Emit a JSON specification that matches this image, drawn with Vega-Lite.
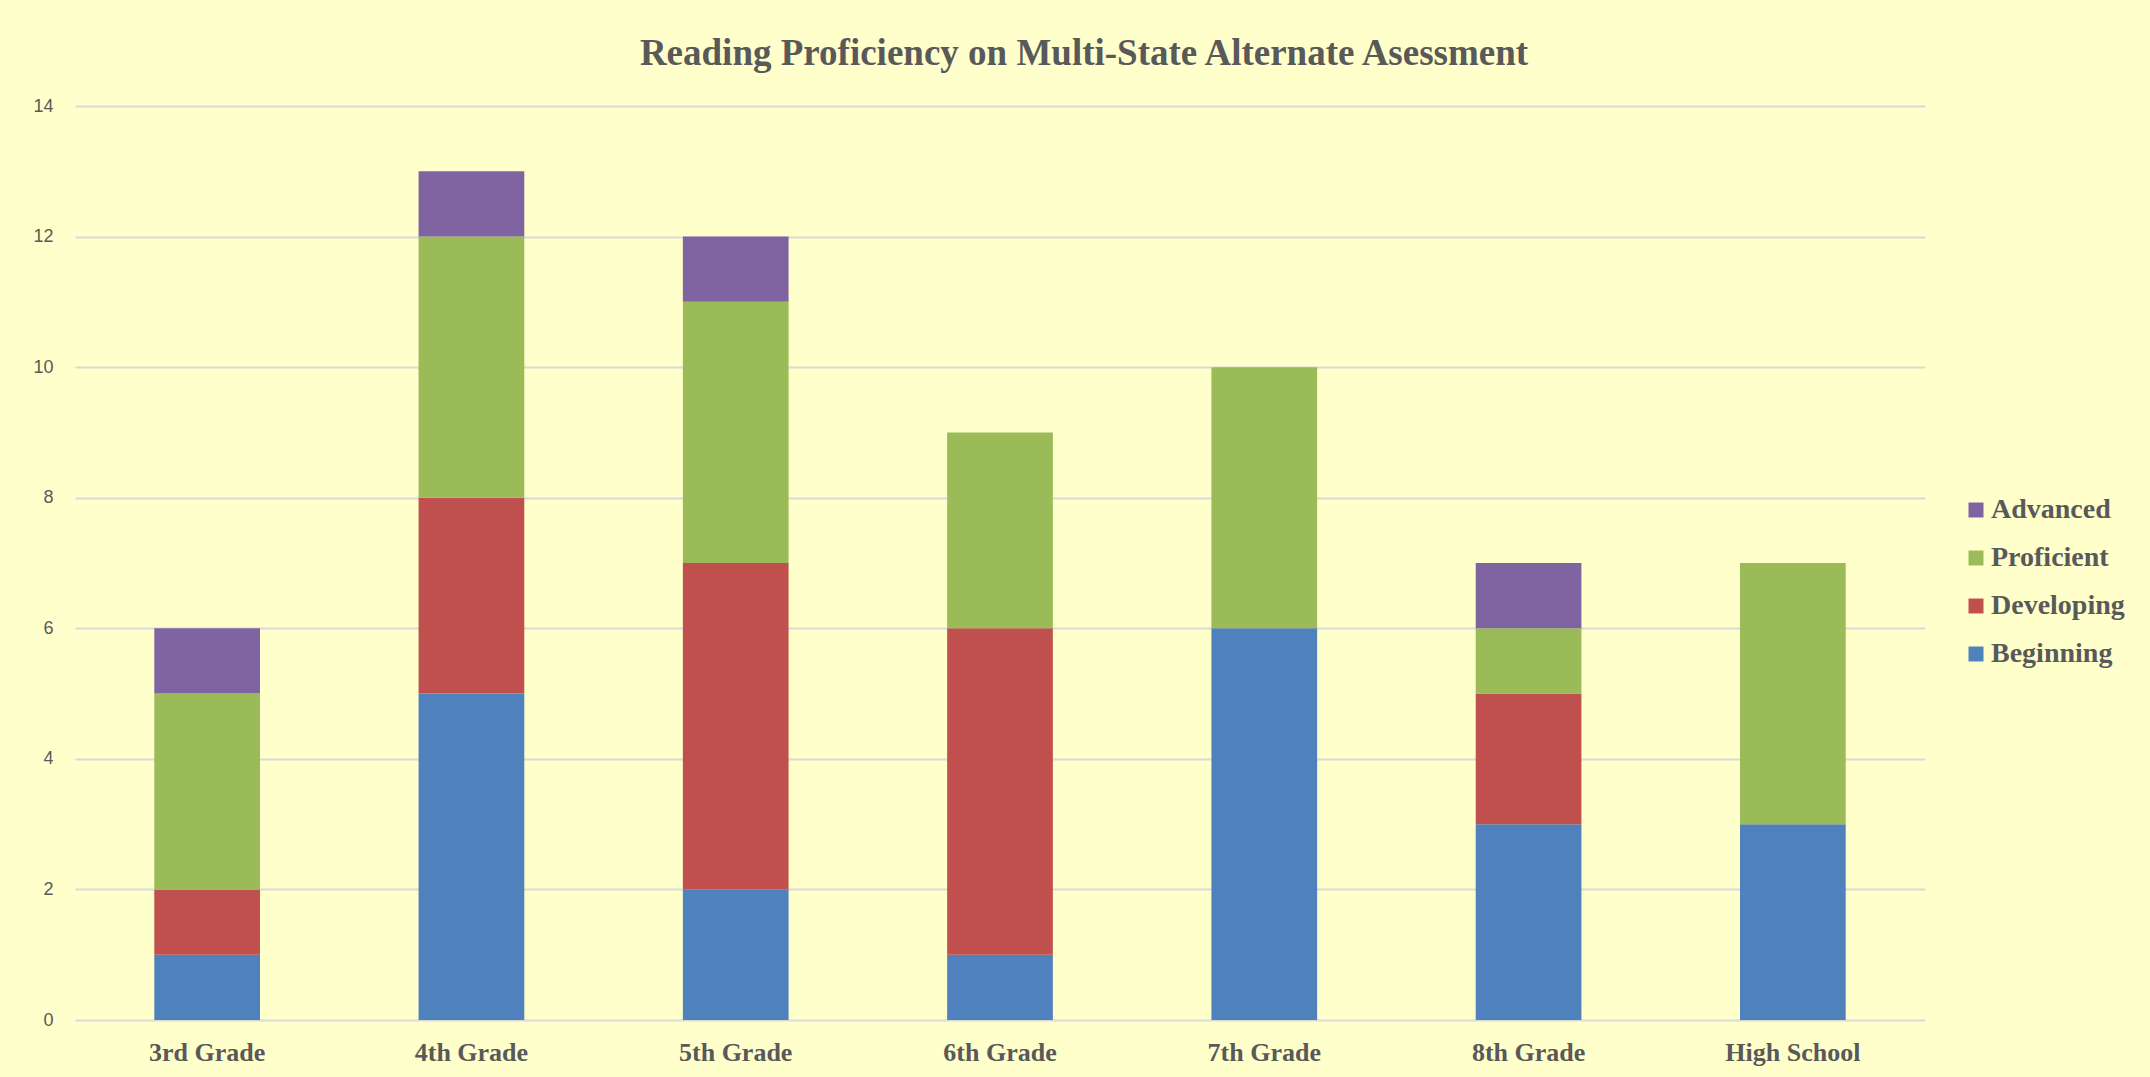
{
  "$schema": "https://vega.github.io/schema/vega-lite/v6.json",
  "autosize": "none",
  "width": 1850,
  "height": 914,
  "padding": {"left": 75, "top": 106, "right": 225, "bottom": 57},
  "background": "#FFFFCC",
  "title": {
    "text": "Reading Proficiency on Multi-State Alternate Asessment",
    "font": "Liberation Serif",
    "fontSize": 37,
    "fontWeight": "bold",
    "color": "#595959",
    "anchor": "middle",
    "dx": 84,
    "offset": 24
  },
  "data": {
    "values": [
      {"grade": "3rd Grade", "level": "Beginning", "count": 1},
      {"grade": "3rd Grade", "level": "Developing", "count": 1},
      {"grade": "3rd Grade", "level": "Proficient", "count": 3},
      {"grade": "3rd Grade", "level": "Advanced", "count": 1},
      {"grade": "4th Grade", "level": "Beginning", "count": 5},
      {"grade": "4th Grade", "level": "Developing", "count": 3},
      {"grade": "4th Grade", "level": "Proficient", "count": 4},
      {"grade": "4th Grade", "level": "Advanced", "count": 1},
      {"grade": "5th Grade", "level": "Beginning", "count": 2},
      {"grade": "5th Grade", "level": "Developing", "count": 5},
      {"grade": "5th Grade", "level": "Proficient", "count": 4},
      {"grade": "5th Grade", "level": "Advanced", "count": 1},
      {"grade": "6th Grade", "level": "Beginning", "count": 1},
      {"grade": "6th Grade", "level": "Developing", "count": 5},
      {"grade": "6th Grade", "level": "Proficient", "count": 3},
      {"grade": "6th Grade", "level": "Advanced", "count": 0},
      {"grade": "7th Grade", "level": "Beginning", "count": 6},
      {"grade": "7th Grade", "level": "Developing", "count": 0},
      {"grade": "7th Grade", "level": "Proficient", "count": 4},
      {"grade": "7th Grade", "level": "Advanced", "count": 0},
      {"grade": "8th Grade", "level": "Beginning", "count": 3},
      {"grade": "8th Grade", "level": "Developing", "count": 2},
      {"grade": "8th Grade", "level": "Proficient", "count": 1},
      {"grade": "8th Grade", "level": "Advanced", "count": 1},
      {"grade": "High School", "level": "Beginning", "count": 3},
      {"grade": "High School", "level": "Developing", "count": 0},
      {"grade": "High School", "level": "Proficient", "count": 4},
      {"grade": "High School", "level": "Advanced", "count": 0}
    ]
  },
  "transform": [
    {"calculate": "indexof(['Beginning','Developing','Proficient','Advanced'], datum.level)", "as": "stackOrder"}
  ],
  "mark": {"type": "bar"},
  "encoding": {
    "x": {
      "field": "grade",
      "type": "nominal",
      "sort": null,
      "scale": {"paddingInner": 0.6, "paddingOuter": 0.3},
      "axis": {
        "title": null,
        "labelAngle": 0,
        "domain": false,
        "ticks": false,
        "labelFont": "Liberation Serif",
        "labelFontSize": 26,
        "labelFontWeight": "bold",
        "labelColor": "#595959",
        "labelPadding": 19
      }
    },
    "y": {
      "field": "count",
      "type": "quantitative",
      "stack": "zero",
      "scale": {"domain": [0, 14], "nice": false},
      "axis": {
        "title": null,
        "values": [0, 2, 4, 6, 8, 10, 12, 14],
        "domain": false,
        "ticks": false,
        "grid": true,
        "gridColor": "#D9D9D9",
        "gridWidth": 2,
        "labelFont": "Liberation Sans",
        "labelFontSize": 18,
        "labelColor": "#595959",
        "labelPadding": 22
      }
    },
    "color": {
      "field": "level",
      "type": "nominal",
      "scale": {
        "domain": ["Beginning", "Developing", "Proficient", "Advanced"],
        "range": ["#4F81BD", "#C0504D", "#9BBB59", "#8064A2"]
      },
      "legend": {
        "title": null,
        "values": ["Advanced", "Proficient", "Developing", "Beginning"],
        "orient": "none",
        "legendX": 1887,
        "legendY": 390,
        "symbolType": "square",
        "symbolSize": 225,
        "symbolStrokeWidth": 0,
        "symbolOpacity": 1,
        "labelFont": "Liberation Serif",
        "labelFontSize": 28,
        "labelFontWeight": "bold",
        "labelColor": "#595959",
        "labelOffset": 1,
        "rowPadding": 20
      }
    },
    "order": {"field": "stackOrder", "type": "quantitative"}
  },
  "config": {
    "view": {"stroke": null}
  }
}
